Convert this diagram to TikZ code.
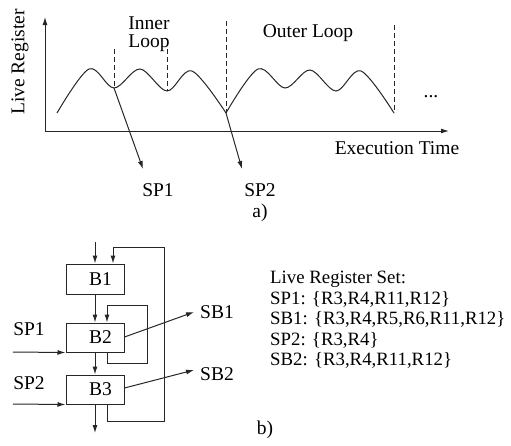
\documentclass[tikz,border=0pt]{standalone}
\usepackage{fontspec}
\setmainfont{Liberation Serif}
\usetikzlibrary{arrows.meta}
\tikzset{
  ln/.style={draw=black!85, line width=1pt},
  arr/.style={ln, -{Latex[length=8pt,width=5pt]}},
  dsh/.style={draw=black!85, line width=0.9pt, dash pattern=on 5pt off 3pt},
  lbl/.style={font=\fontsize{19.5}{17}\selectfont, inner sep=0pt},
  txt/.style={font=\fontsize{18.8}{20}\selectfont, inner sep=0pt, anchor=base west},
  blk/.style={ln, minimum width=58pt, inner sep=0pt, font=\fontsize{19.5}{20}\selectfont}
}
\begin{document}
\begin{tikzpicture}[x=1pt,y=-1pt]
\useasboundingbox (0,0) rectangle (511,445);
% ---------- part a ----------
\coordinate (o) at (45,131);
\coordinate (ytop) at (45,17);
\coordinate (xend) at (449,131);
\draw[arr] (o) -- (ytop);
\draw[arr] (o) -- (xend);
\node[lbl, rotate=90] (ylab) at (20,62) {Live Register};
\node[lbl] (xlab) at (397,148) {Execution Time};
% curve
\coordinate (c1) at (114,88);
\coordinate (c2) at (226,113);
\draw[ln] plot[smooth, tension=0.55] coordinates {(57,113) (89,69) (114,88) (140,69) (167,91) (192,71) (226,113)};
\draw[ln] plot[smooth, tension=0.55] coordinates {(226,113) (258,69) (285,88) (310,70) (336,91) (361,71) (394,113)};
% dashed
\coordinate (d1t) at (114,49); \coordinate (d1b) at (114,88);
\coordinate (d2t) at (167,49); \coordinate (d2b) at (167,91);
\coordinate (d3t) at (226,21); \coordinate (d3b) at (226,113);
\coordinate (d4t) at (394,25); \coordinate (d4b) at (394,113);
\draw[dsh] (d1t) -- (d1b);
\draw[dsh] (d2t) -- (d2b);
\draw[dsh] (d3t) -- (d3b);
\draw[dsh] (d4t) -- (d4b);
\node[lbl, anchor=base] (inner1) at (149,29) {Inner};
\node[lbl, anchor=base] (inner2) at (149,47) {Loop};
\node[lbl] (outer) at (308,33) {Outer Loop};
\node[lbl, anchor=base] (dots) at (431,97) {...};
% SP arrows
\coordinate (t1) at (143,169);
\coordinate (t2) at (242,169);
\draw[arr] (c1) -- (t1);
\draw[arr] (c2) -- (t2);
\node[lbl, anchor=base] (sp1a) at (158,196) {SP1};
\node[lbl, anchor=base] (sp2a) at (260,196) {SP2};
\node[lbl, anchor=base] (la) at (260,217) {a)};
% ---------- part b ----------
\node[blk, minimum height=30pt] (B1) at (95,279) {\hspace*{11pt}B1};
\node[blk, minimum height=29pt] (B2) at (95,337.5) {\hspace*{11pt}B2};
\node[blk, minimum height=29pt] (B3) at (95,389.5) {\hspace*{11pt}B3};
% main flow
\coordinate (in) at (95,242);
\coordinate (out) at (95,433);
\draw[arr] (in) -- (B1.north -| in);
\draw[arr] (B1.south -| in) -- (B2.north -| in);
\draw[arr] (B2.south -| in) -- (B3.north -| in);
\draw[arr] (B3.south -| in) -- (out);
% outer loop
\coordinate (ol1) at (107,421);
\coordinate (ol2) at (164,421);
\coordinate (ol3) at (164,247);
\coordinate (ol4) at (113,247);
\draw[arr] (B3.south -| ol1) -- (ol1) -- (ol2) -- (ol3) -- (ol4) -- (B1.north -| ol4);
% self loop on B2
\coordinate (sl1) at (107,363);
\coordinate (sl2) at (147,363);
\coordinate (sl3) at (147,305);
\coordinate (sl4) at (107,305);
\draw[arr] (B2.south -| sl1) -- (sl1) -- (sl2) -- (sl3) -- (sl4) -- (B2.north -| sl4);
% SP inputs
\coordinate (s1) at (13,352);
\coordinate (s2) at (13,404);
\draw[arr] (s1) -- (B2.south west);
\draw[arr] (s2) -- (B3.south west);
\node[lbl] (sp1b) at (29,329) {SP1};
\node[lbl] (sp2b) at (29,383) {SP2};
% SB outputs
\coordinate (e1) at (124,337);
\coordinate (e2) at (124,388);
\coordinate (f1) at (194,312);
\coordinate (f2) at (194,370);
\draw[arr] (B2.east |- e1) -- (f1);
\draw[arr] (B3.east |- e2) -- (f2);
\node[lbl] (sb1) at (217,312) {SB1};
\node[lbl] (sb2) at (217,374) {SB2};
% text block
\node[txt] (t0) at (270,283) {Live Register Set:};
\node[txt] (t1l) at (270,304) {SP1: \{R3,R4,R11,R12\}};
\node[txt] (t2l) at (270,324.5) {SB1: \{R3,R4,R5,R6,R11,R12\}};
\node[txt] (t3l) at (270,345) {SP2: \{R3,R4\}};
\node[txt] (t4l) at (270,365.5) {SB2: \{R3,R4,R11,R12\}};
\node[lbl] (lb) at (265,430) {b)};
\end{tikzpicture}
\end{document}
